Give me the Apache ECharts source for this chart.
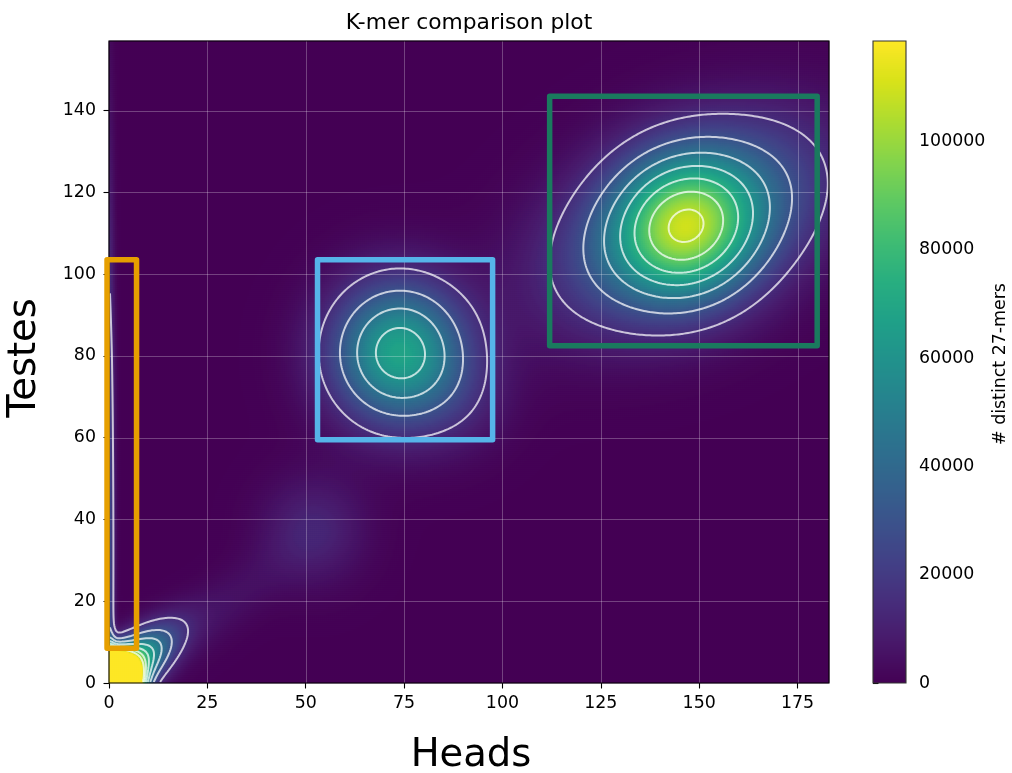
<!DOCTYPE html>
<html>
<head>
<meta charset="utf-8">
<title>K-mer comparison plot</title>
<script src="https://cdn.jsdelivr.net/npm/echarts@6/dist/echarts.min.js"></script>
<style>
  html, body { margin: 0; padding: 0; background: #ffffff; }
  #chart { width: 1012px; height: 773px; }
</style>
</head>
<body>
<div id="chart"></div>
<script>
// Axis extents and tick labels
const headsMax = 183;
const testesMax = 157;
const countMax = 118600;
const headsTicks = [0, 25, 50, 75, 100, 125, 150, 175];
const testesTicks = [0, 20, 40, 60, 80, 100, 120, 140];
const countTicks = [0, 20000, 40000, 60000, 80000, 100000];
const contourLevels = [15000, 30000, 45000, 60000, 75000, 90000, 105000];

// K-mer clusters of the density: centre (heads, testes), spread along and
// across the main direction, tilt of that direction (degrees), peak count
const clusterNames  = ['corner', 'corner tail', 'zero-heads ridge', 'diagonal', 'faint',
                       'middle', 'middle skew', 'main core', 'main halo'];
const clusterHeads  = [0, 0, 0, 28, 52, 73.8, 90, 146.5, 147.5];
const clusterTestes = [0, 0, 30, 18, 37.5, 80.8, 69, 111.5, 112.5];
const clusterMajor  = [3.7, 11.1, 60, 16, 9, 11.8, 9, 12, 23];
const clusterMinor  = [3.7, 4.0, 1.0, 5, 9, 11.8, 9, 12, 13.5];
const clusterTilt   = [0, 38, 90, 37, 0, 0, 0, 0, 25];
const clusterPeak   = [900000, 125000, 28000, 5000, 12000, 68000, 5500, 55000, 55000];

// Selection boxes (heads from-to, testes from-to)
const boxHeadsFrom  = [-0.5, 53, 112];
const boxHeadsTo    = [7, 97.5, 180];
const boxTestesFrom = [8.5, 59.5, 82.5];
const boxTestesTo   = [103.5, 103.5, 143.5];

// Styles
const boxColors = ['#E69F00', '#56B4E9', '#1a7a5e'];
const viridis = ['#440154', '#48186a', '#472d7b', '#424086', '#3b528b', '#33638d',
  '#2c728e', '#26828e', '#21918c', '#1fa088', '#28ae80', '#3fbc73', '#5ec962',
  '#84d44b', '#addc30', '#d8e219', '#fde725'];
const FONT = 'DejaVu Sans';
const PLOT = { left: 109, top: 41, width: 720, height: 642 };
const CBAR = { left: 873, top: 41, width: 33, height: 642 };
const CELL_PX = 2;   // heatmap cells and colour bar strips are 2 px on screen

// ---- density grid ----
function density(h, t) {
  let s = 0;
  for (let k = 0; k < clusterPeak.length; k++) {
    const a = clusterTilt[k] * Math.PI / 180;
    const dx = h - clusterHeads[k], dy = t - clusterTestes[k];
    const u = dx * Math.cos(a) + dy * Math.sin(a);
    const v = -dx * Math.sin(a) + dy * Math.cos(a);
    s += clusterPeak[k] * Math.exp(-0.5 * ((u / clusterMajor[k]) ** 2 + (v / clusterMinor[k]) ** 2));
  }
  return s;
}

const nx = PLOT.width / CELL_PX;
const ny = PLOT.height / CELL_PX;
const cellW = headsMax / nx, cellH = testesMax / ny;
const xs = Array.from({ length: nx }, (_, i) => (i + 0.5) * cellW);
const ys = Array.from({ length: ny }, (_, j) => (j + 0.5) * cellH);
const field = ys.map(t => xs.map(h => density(h, t)));

const heatData = [];
for (let j = 0; j < ny; j++) {
  for (let i = 0; i < nx; i++) heatData.push([i, j, Math.min(field[j][i], countMax)]);
}

// ---- contour lines (marching squares, chained into polylines) ----
function contourLines(level) {
  const pts = new Map();
  const segs = [];
  const edge = (key, x0, y0, v0, x1, y1, v1) => {
    if (!pts.has(key)) {
      const f = (level - v0) / (v1 - v0);
      pts.set(key, [x0 + f * (x1 - x0), y0 + f * (y1 - y0)]);
    }
    return key;
  };
  for (let j = 0; j < ny - 1; j++) {
    for (let i = 0; i < nx - 1; i++) {
      const v00 = field[j][i], v10 = field[j][i + 1], v11 = field[j + 1][i + 1], v01 = field[j + 1][i];
      const code = (v00 >= level ? 1 : 0) | (v10 >= level ? 2 : 0) | (v11 >= level ? 4 : 0) | (v01 >= level ? 8 : 0);
      if (code === 0 || code === 15) continue;
      const x0 = xs[i], x1 = xs[i + 1], y0 = ys[j], y1 = ys[j + 1];
      const B = () => edge('h' + i + ',' + j, x0, y0, v00, x1, y0, v10);
      const R = () => edge('v' + (i + 1) + ',' + j, x1, y0, v10, x1, y1, v11);
      const T = () => edge('h' + i + ',' + (j + 1), x0, y1, v01, x1, y1, v11);
      const L = () => edge('v' + i + ',' + j, x0, y0, v00, x0, y1, v01);
      const centreHigh = (v00 + v10 + v11 + v01) / 4 >= level;
      if (code === 5) {
        if (centreHigh) { segs.push([B(), R()], [T(), L()]); } else { segs.push([B(), L()], [R(), T()]); }
        continue;
      }
      if (code === 10) {
        if (centreHigh) { segs.push([L(), B()], [R(), T()]); } else { segs.push([B(), R()], [T(), L()]); }
        continue;
      }
      const crossed = [];
      if ((v00 >= level) !== (v10 >= level)) crossed.push(B());
      if ((v10 >= level) !== (v11 >= level)) crossed.push(R());
      if ((v01 >= level) !== (v11 >= level)) crossed.push(T());
      if ((v00 >= level) !== (v01 >= level)) crossed.push(L());
      if (crossed.length === 2) segs.push(crossed);
    }
  }
  const adj = new Map();
  const add = (k, n) => { if (!adj.has(k)) adj.set(k, []); adj.get(k).push(n); };
  segs.forEach((s, n) => { add(s[0], n); add(s[1], n); });
  const used = new Uint8Array(segs.length);
  const follow = (start) => {
    const keys = [start];
    let cur = start;
    for (;;) {
      const next = (adj.get(cur) || []).find(n => !used[n]);
      if (next === undefined) break;
      used[next] = 1;
      const s = segs[next];
      cur = s[0] === cur ? s[1] : s[0];
      keys.push(cur);
    }
    return keys.map(k => pts.get(k));
  };
  const lines = [];
  for (const [k, list] of adj) {
    if (list.length === 1 && !used[list[0]]) lines.push(follow(k));
  }
  segs.forEach((s, n) => { if (!used[n]) lines.push(follow(s[0])); });
  return lines;
}

const contours = [];
contourLevels.forEach(level => contourLines(level).forEach(line => contours.push(line)));

// ---- colour bar strips ----
const cbStrips = CBAR.height / CELL_PX;
const cbData = Array.from({ length: cbStrips }, (_, k) => {
  const lo = countMax * k / cbStrips, hi = countMax * (k + 1) / cbStrips;
  return [0, lo, (lo + hi) / 2, hi];
});

const boxData = boxHeadsFrom.map((h, k) => [h, boxTestesFrom[k], boxHeadsTo[k], boxTestesTo[k]]);
const gridLineData = headsTicks.filter(v => v > 0).map(v => [v, 0, 0])
  .concat(testesTicks.filter(v => v > 0).map(v => [0, v, 1]));

const tickLabel = { fontSize: 17.4, fontFamily: FONT, color: '#000' };
const tickStyle = { show: true, length: 5.5, lineStyle: { color: '#000', width: 1.1 } };

const chart = echarts.init(document.getElementById('chart'), null, { renderer: 'canvas' });
chart.setOption({
  animation: false,
  backgroundColor: '#ffffff',
  grid: [
    Object.assign({ show: true, backgroundColor: viridis[0], borderWidth: 0 }, PLOT),
    Object.assign({}, PLOT),
    Object.assign({}, CBAR)
  ],
  xAxis: [
    { type: 'category', gridIndex: 0, data: xs.map((_, i) => i), show: false },
    {
      type: 'value', gridIndex: 1, min: 0, max: headsMax,
      axisLine: { show: false },
      axisTick: Object.assign({ customValues: headsTicks }, tickStyle),
      axisLabel: Object.assign({ customValues: headsTicks, margin: 12 }, tickLabel),
      splitLine: { show: false }
    },
    { type: 'value', gridIndex: 2, min: 0, max: 1, show: false }
  ],
  yAxis: [
    { type: 'category', gridIndex: 0, data: ys.map((_, j) => j), show: false },
    {
      type: 'value', gridIndex: 1, min: 0, max: testesMax,
      axisLine: { show: false },
      axisTick: Object.assign({ customValues: testesTicks }, tickStyle),
      axisLabel: Object.assign({ customValues: testesTicks, margin: 13 }, tickLabel),
      splitLine: { show: false }
    },
    {
      type: 'value', gridIndex: 2, min: 0, max: countMax, position: 'right',
      axisLine: { show: false },
      axisTick: Object.assign({ customValues: countTicks }, tickStyle),
      axisLabel: Object.assign({ customValues: countTicks, margin: 13, formatter: v => String(v) }, tickLabel),
      splitLine: { show: false }
    }
  ],
  visualMap: {
    type: 'continuous', show: false, min: 0, max: countMax, dimension: 2,
    seriesIndex: [0, 5], inRange: { color: viridis }
  },
  series: [
    // 0: density heatmap
    {
      type: 'heatmap', xAxisIndex: 0, yAxisIndex: 0, data: heatData,
      progressive: 0, progressiveThreshold: 1e9, silent: true, z: 1,
      itemStyle: { borderWidth: 0 }, emphasis: { disabled: true }
    },
    // 1: grid lines over the image
    {
      type: 'custom', xAxisIndex: 1, yAxisIndex: 1, data: gridLineData, silent: true, z: 3,
      renderItem(params, api) {
        const cs = params.coordSys;
        let shape;
        if (api.value(2) === 0) {
          const x = Math.round(api.coord([api.value(0), 0])[0]) + 0.5;
          shape = { x1: x, y1: cs.y, x2: x, y2: cs.y + cs.height };
        } else {
          const y = Math.round(api.coord([0, api.value(1)])[1]) + 0.5;
          shape = { x1: cs.x, y1: y, x2: cs.x + cs.width, y2: y };
        }
        return { type: 'line', shape, style: { stroke: 'rgba(255,255,255,0.26)', lineWidth: 1 } };
      }
    },
    // 2: contour lines
    {
      type: 'custom', xAxisIndex: 1, yAxisIndex: 1, data: contours.map((_, n) => [n]),
      silent: true, z: 4, clip: true,
      renderItem(params, api) {
        const line = contours[api.value(0)];
        return {
          type: 'polyline',
          shape: { points: line.map(p => api.coord(p)) },
          style: { stroke: 'rgba(255,255,255,0.72)', lineWidth: 2, fill: null, lineJoin: 'round' }
        };
      }
    },
    // 3: selection boxes
    {
      type: 'custom', xAxisIndex: 1, yAxisIndex: 1, data: boxData, silent: true, z: 6,
      renderItem(params, api) {
        const p0 = api.coord([api.value(0), api.value(1)]);
        const p1 = api.coord([api.value(2), api.value(3)]);
        return {
          type: 'rect',
          shape: { x: Math.min(p0[0], p1[0]), y: Math.min(p0[1], p1[1]), width: Math.abs(p1[0] - p0[0]), height: Math.abs(p1[1] - p0[1]) },
          style: { stroke: boxColors[params.dataIndex], lineWidth: 5.5, fill: null, lineJoin: 'round' }
        };
      }
    },
    // 4: plot frame
    {
      type: 'custom', xAxisIndex: 1, yAxisIndex: 1, data: [[0, 0]], silent: true, z: 5,
      renderItem(params) {
        const cs = params.coordSys;
        return { type: 'rect', shape: { x: cs.x, y: cs.y, width: cs.width, height: cs.height },
          style: { stroke: '#000', lineWidth: 1.1, fill: null } };
      }
    },
    // 5: colour bar strips
    {
      type: 'custom', xAxisIndex: 2, yAxisIndex: 2, data: cbData, silent: true, z: 2,
      renderItem(params, api) {
        const cs = params.coordSys;
        const yLo = Math.round(api.coord([0, api.value(1)])[1]);
        const yHi = Math.round(api.coord([0, api.value(3)])[1]);
        return { type: 'rect', shape: { x: cs.x, y: yHi, width: cs.width, height: yLo - yHi },
          style: { fill: api.visual('color') } };
      }
    },
    // 6: colour bar frame
    {
      type: 'custom', xAxisIndex: 2, yAxisIndex: 2, data: [[0, 0]], silent: true, z: 5,
      renderItem(params) {
        const cs = params.coordSys;
        return { type: 'rect', shape: { x: cs.x, y: cs.y, width: cs.width, height: cs.height },
          style: { stroke: '#333', lineWidth: 1.1, fill: null } };
      }
    }
  ],
  graphic: [
    { type: 'text', x: 469, y: 23.5, silent: true,
      style: { text: 'K-mer comparison plot', fontSize: 21.8, fontFamily: FONT, fill: '#000', align: 'center', verticalAlign: 'middle' } },
    { type: 'text', x: 471, y: 756, silent: true,
      style: { text: 'Heads', fontSize: 38.5, fontFamily: FONT, fill: '#000', align: 'center', verticalAlign: 'middle' } },
    { type: 'text', x: 25, y: 358, rotation: Math.PI / 2, silent: true,
      style: { text: 'Testes', fontSize: 38.5, fontFamily: FONT, fill: '#000', align: 'center', verticalAlign: 'middle' } },
    { type: 'text', x: 1000, y: 364, rotation: Math.PI / 2, silent: true,
      style: { text: '# distinct 27-mers', fontSize: 17.4, fontFamily: FONT, fill: '#000', align: 'center', verticalAlign: 'middle' } }
  ]
});
</script>
</body>
</html>
